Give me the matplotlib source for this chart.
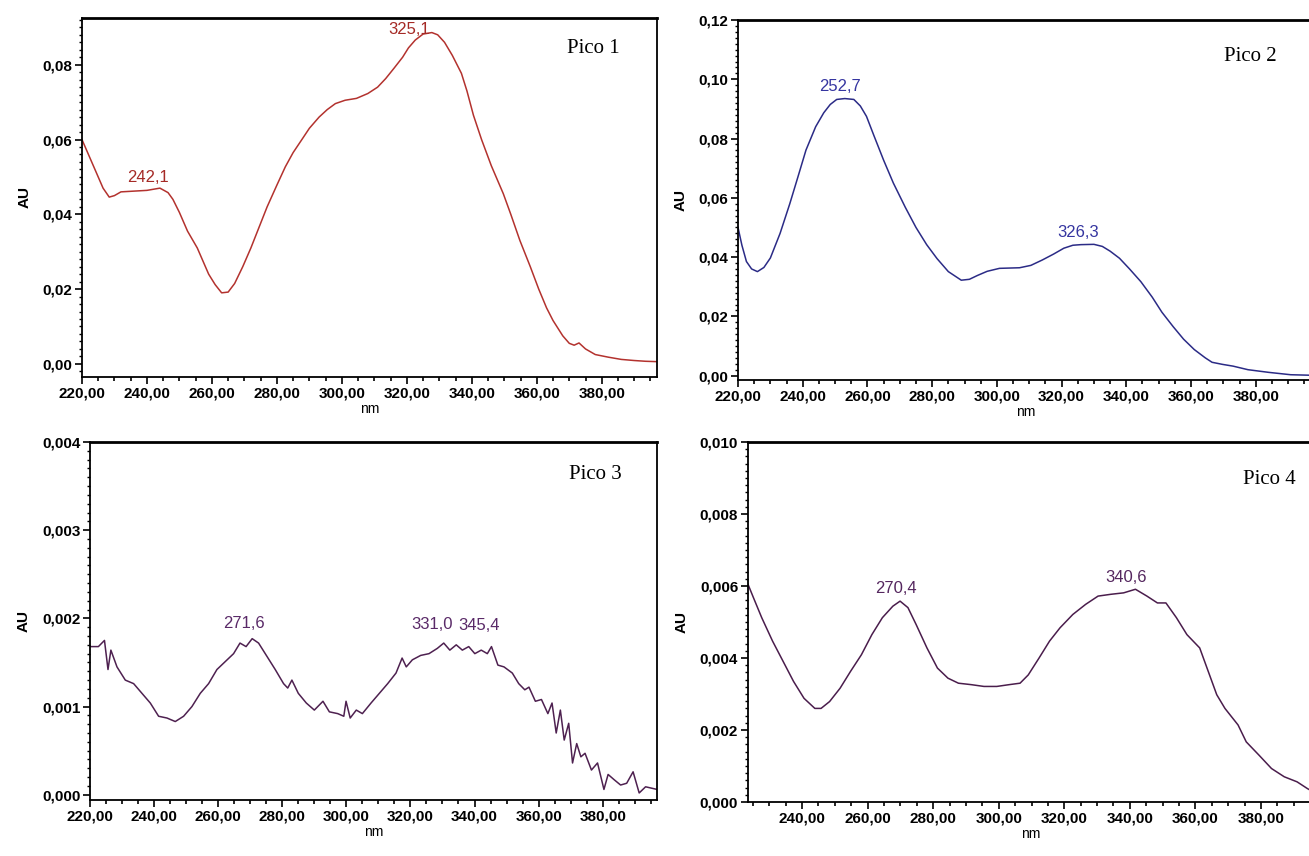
import matplotlib
matplotlib.use('Agg')
import matplotlib.pyplot as plt
from matplotlib.ticker import MultipleLocator, FuncFormatter

plt.rcParams['font.family'] = ['Liberation Sans Narrow', 'Liberation Sans', 'DejaVu Sans']

# Pico 1
p1_nm = [220, 222, 224.5, 226.5, 228.4, 230, 232, 236, 240, 244, 246.5, 248, 250, 252.5, 255.5, 259,
         261, 263, 265, 267, 269.5, 272, 274.5, 277, 280, 282.6, 285, 287.7, 290, 293, 295.5, 298,
         301, 304.5, 308, 311, 313.5, 316, 318.7, 320.5, 322.6, 325, 327.7, 329.5, 331.6, 334,
         336.8, 338.5, 340.5, 343, 346, 349.7, 352, 354.8, 358, 360.6, 363, 365, 368, 370, 371.5,
         373, 375, 378, 382, 386, 390, 393.5, 397]
p1_au = [0.0600, 0.0560, 0.0510, 0.0470, 0.0446, 0.0450, 0.0460, 0.0462, 0.0464, 0.0470, 0.0458,
         0.0440, 0.0405, 0.0355, 0.0310, 0.0240, 0.0212, 0.0190, 0.0192, 0.0215, 0.0260, 0.0310,
         0.0365, 0.0420, 0.0478, 0.0527, 0.0565, 0.0600, 0.0630, 0.0660, 0.0680, 0.0696, 0.0705,
         0.0710, 0.0723, 0.0740, 0.0763, 0.0790, 0.0820, 0.0845, 0.0866, 0.0882, 0.0886, 0.0880,
         0.0860, 0.0825, 0.0777, 0.0730, 0.0665, 0.0600, 0.0530, 0.0455, 0.0400, 0.0330, 0.0260,
         0.0200, 0.0150, 0.0116, 0.0075, 0.0055, 0.0050, 0.0056, 0.0040, 0.0025, 0.0018, 0.0012,
         0.0009, 0.0007, 0.0006]

# Pico 2
p2_nm = [220, 221.2, 222.6, 224.2, 226, 228, 230, 233, 236, 238.5, 241, 244, 246.5, 248.5, 250.5,
         253, 255.8, 257.8, 259.7, 262, 265, 268, 271.7, 275, 278.3, 281.5, 285, 289, 291.5, 294,
         297, 300.8, 307, 310.5, 314, 317.5, 320.7, 323.5, 326, 330, 332.6, 335, 337.9, 341, 344.5,
         348, 351, 354.5, 357.7, 361, 364.4, 366.5, 369.7, 373, 377.6, 384, 390.8, 398]
p2_au = [0.0500, 0.0440, 0.0385, 0.0360, 0.0351, 0.0365, 0.0397, 0.0480, 0.0580, 0.0670, 0.0761,
         0.0840, 0.0887, 0.0915, 0.0932, 0.0935, 0.0932, 0.0910, 0.0875, 0.0810, 0.0727, 0.0650,
         0.0568, 0.0500, 0.0442, 0.0395, 0.0351, 0.0322, 0.0325, 0.0338, 0.0352, 0.0362, 0.0364,
         0.0372, 0.0390, 0.0410, 0.0430, 0.0440, 0.0442, 0.0443, 0.0436, 0.0420, 0.0396, 0.0360,
         0.0317, 0.0265, 0.0214, 0.0165, 0.0123, 0.0088, 0.0060, 0.0045, 0.0038, 0.0032, 0.0020,
         0.0011, 0.0003, 0.0001]

# Pico 3
p3_nm = [220, 222.6, 224.5, 225.6, 226.5, 228.4, 231, 233.6, 236.2, 238.8, 241.4, 244, 246.6, 249.2,
         251.8, 254.4, 257, 259.6, 262.2, 264.8, 266.8, 268.7, 270.6, 272.6, 275.2, 277.8, 280.4,
         281.7, 283, 285, 287.5, 290, 292.7, 294.7, 297.3, 299.2, 299.9, 301.2, 303.1, 305, 307.7,
         310.3, 312.9, 315.5, 317.4, 318.7, 320.6, 323.2, 325.8, 328.4, 330.4, 332.3, 334.3, 336.2,
         338.2, 340.1, 342.1, 344, 345.3, 347.3, 349.2, 351.8, 353.8, 355.7, 357, 359, 360.9, 362.9,
         364.2, 365.5, 366.8, 368, 369.4, 370.6, 371.9, 373.2, 374.5, 376.5, 378.4, 380.4, 381.7,
         383.6, 385.6, 387.5, 389.5, 391.4, 393.4, 397]
p3_au = [0.00168, 0.00168, 0.00175, 0.00142, 0.00164, 0.00145, 0.00130, 0.00126, 0.00115, 0.00104,
         0.00089, 0.00087, 0.00083, 0.00089, 0.00100, 0.00115, 0.00126, 0.00142, 0.00151, 0.00160,
         0.00172, 0.00168, 0.00177, 0.00172, 0.00157, 0.00142, 0.00126, 0.00121, 0.00130, 0.00115,
         0.00104, 0.00096, 0.00106, 0.00094, 0.00092, 0.00089, 0.00106, 0.00087, 0.00096, 0.00092,
         0.00104, 0.00115, 0.00126, 0.00138, 0.00155, 0.00145, 0.00153, 0.00158, 0.00160, 0.00166,
         0.00172, 0.00164, 0.00170, 0.00164, 0.00168, 0.00160, 0.00164, 0.00160, 0.00168, 0.00147,
         0.00145, 0.00138, 0.00126, 0.00119, 0.00122, 0.00106, 0.00108, 0.00092, 0.00104, 0.00070,
         0.00096, 0.00062, 0.00081, 0.00036, 0.00058, 0.00043, 0.00047, 0.00028, 0.00036, 0.00006,
         0.00023, 0.00017, 0.00011, 0.00013, 0.00026, 0.00002, 0.00009, 0.00006]

# Pico 4
p4_nm = [223.5, 225.2, 227.7, 231, 234.2, 237.4, 240.6, 243.9, 245.8, 248.4, 251.6, 254.8, 258.1,
         261.3, 264.5, 267.7, 269.9, 272.3, 274.8, 278.1, 281.3, 284.5, 287.7, 291.6, 295.5, 299.4,
         303.2, 306.5, 309, 312.3, 315.5, 318.7, 322.6, 326.5, 330.3, 334.2, 338.1, 341.7, 345.2,
         348.4, 351, 354.2, 357.4, 361.3, 363.9, 366.5, 369, 373, 375.5, 379.4, 383.2, 387.1, 391,
         394.2, 396]
p4_au = [0.00605, 0.00567, 0.00512, 0.00447, 0.00391, 0.00335, 0.00288, 0.00260, 0.00260, 0.00279,
         0.00316, 0.00363, 0.00409, 0.00465, 0.00512, 0.00544, 0.00558, 0.00540, 0.00493, 0.00428,
         0.00372, 0.00344, 0.00330, 0.00326, 0.00321, 0.00321, 0.00326, 0.00330, 0.00353, 0.00400,
         0.00447, 0.00484, 0.00521, 0.00549, 0.00572, 0.00577, 0.00581, 0.00591, 0.00572, 0.00553,
         0.00553, 0.00512, 0.00465, 0.00428, 0.00363, 0.00298, 0.00260, 0.00214, 0.00167, 0.00130,
         0.00093, 0.00070, 0.00056, 0.00037, 0.00028]

# peak labels: (wavelength, absorbance, text)
p1_peaks = [(242.1, 0.0472, '242,1'), (325.1, 0.0886, '325,1')]
p2_peaks = [(252.7, 0.0935, '252,7'), (326.3, 0.0444, '326,3')]
p3_peaks = [(271.6, 0.00178, '271,6'), (331.0, 0.00173, '331,0'), (345.4, 0.00169, '345,4')]
p4_peaks = [(270.4, 0.0056, '270,4'), (340.6, 0.0059, '340,6')]

panels = [
    dict(nm=p1_nm, au=p1_au, rect=[0.0626, 0.5596, 0.4393, 0.4194], xlim=(220, 397),
         ylim=(-0.0035, 0.0925), ymaj=0.02, ymin=0.002, ydec=2, color='#b3322e', tcolor='#a52a26',
         title='Pico 1', tpos=(0.935, 0.915), peaks=p1_peaks,
         offs=[(-4, 2, 'center'), (-10, -3, 'center')]),
    dict(nm=p2_nm, au=p2_au, rect=[0.5638, 0.556, 0.440, 0.4206], xlim=(220, 398),
         ylim=(-0.0015, 0.12), ymaj=0.02, ymin=0.002, ydec=2, color='#2b2b86', tcolor='#3535a0',
         title='Pico 2', tpos=(0.935, 0.9), peaks=p2_peaks,
         offs=[(-3, 3, 'center'), (-3, 3, 'center')]),
    dict(nm=p3_nm, au=p3_au, rect=[0.0688, 0.0654, 0.4332, 0.4182], xlim=(220, 397),
         ylim=(-0.00006, 0.004), ymaj=0.001, ymin=0.0001, ydec=3, color='#4e2150', tcolor='#5a2a68',
         title='Pico 3', tpos=(0.938, 0.91), peaks=p3_peaks,
         offs=[(-8, 5, 'center'), (5, 7, 'right'), (-24, 9, 'left')]),
    dict(nm=p4_nm, au=p4_au, rect=[0.5714, 0.0631, 0.432, 0.4205], xlim=(223.5, 396),
         ylim=(0, 0.010), ymaj=0.002, ymin=0.0002, ydec=3, color='#4a1d4c', tcolor='#55275f',
         title='Pico 4', tpos=(0.968, 0.895), peaks=p4_peaks,
         offs=[(-4, 3, 'center'), (-4, 3, 'center')]),
]

fig = plt.figure(figsize=(13.09, 8.56), dpi=100)

for p in panels:
    ax = fig.add_axes(p['rect'])
    ax.plot(p['nm'], p['au'], color=p['color'], linewidth=1.1)
    ax.set_xlim(*p['xlim'])
    ax.set_ylim(*p['ylim'])

    ax.xaxis.set_major_locator(MultipleLocator(20))
    ax.xaxis.set_minor_locator(MultipleLocator(5))
    ax.yaxis.set_major_locator(MultipleLocator(p['ymaj']))
    ax.yaxis.set_minor_locator(MultipleLocator(p['ymin']))
    ax.xaxis.set_major_formatter(FuncFormatter(lambda v, pos: f'{v:.2f}'.replace('.', ',')))
    ax.yaxis.set_major_formatter(FuncFormatter(
        lambda v, pos, d=p['ydec']: f'{abs(v):.{d}f}'.replace('.', ',')))

    ax.tick_params(axis='both', which='major', direction='out', length=5, width=1.2,
                   labelsize=11, pad=2)
    ax.tick_params(axis='x', which='minor', direction='out', length=3, width=1.2)
    ax.tick_params(axis='y', which='minor', direction='out', length=2, width=1.0)
    for lbl in ax.get_xticklabels() + ax.get_yticklabels():
        lbl.set_fontweight('bold')

    for side in ['left', 'bottom', 'right']:
        ax.spines[side].set_linewidth(1.3)
    ax.spines['top'].set_linewidth(2.0)

    ax.set_xlabel('nm', fontsize=10, labelpad=1)
    ax.set_ylabel('AU', fontsize=11, fontweight='bold', labelpad=8)

    ax.text(p['tpos'][0], p['tpos'][1], p['title'], transform=ax.transAxes, ha='right',
            va='center', fontsize=15, family='Liberation Serif')

    for (x, y, s), (dx, dy, ha) in zip(p['peaks'], p['offs']):
        ax.annotate(s, (x, y), xytext=(dx, dy), textcoords='offset points', ha=ha,
                    va='bottom', fontsize=12, color=p['tcolor'])

fig.savefig('out.png', dpi=100)
